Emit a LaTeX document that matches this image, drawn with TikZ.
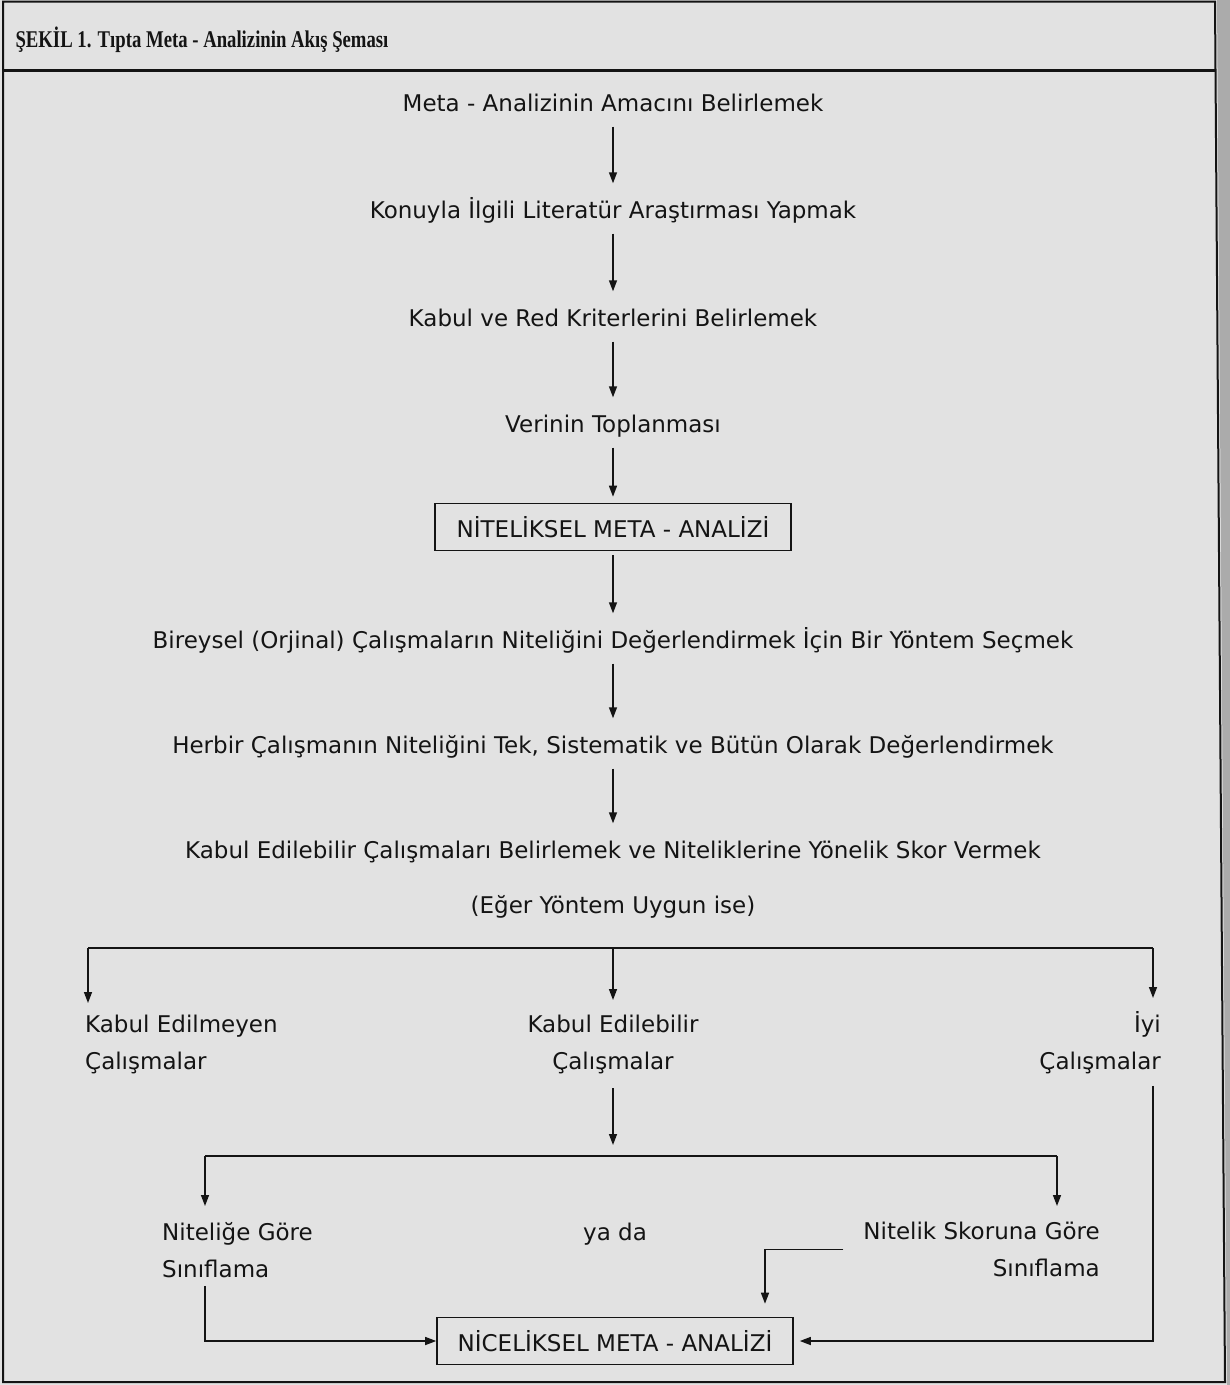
\documentclass[tikz,border=0pt]{standalone}
\usepackage{fontspec}
\setmainfont{DejaVu Sans}
\newfontfamily\sekiltitlefont[FakeStretch=0.78]{Liberation Serif}
\usepackage{xcolor}
\usetikzlibrary{arrows.meta, calc}
\definecolor{sekilpaper}{HTML}{E2E2E2}
\definecolor{sekilgutter}{HTML}{ABABAB}
\definecolor{sekilink}{HTML}{141414}

\tikzset{
  flowtext/.style={font=\fontsize{23}{37}\selectfont, text=sekilink, inner sep=0pt,
    text height=17pt, text depth=0pt},
  flowpair/.style={font=\fontsize{23}{37}\selectfont, text=sekilink, inner sep=0pt},
  flowbox/.style={draw=sekilink, line width=1.6pt, text=sekilink,
    font=\fontsize{23}{27}\selectfont, minimum width=356pt, minimum height=47pt, inner sep=0pt},
  flowarrow/.style={draw=sekilink, line width=1.4pt, -{Triangle[length=11pt,width=8pt]},
    shorten <=15pt, shorten >=18pt},
  flowline/.style={draw=sekilink, line width=1.4pt},
}

\begin{document}
\begin{tikzpicture}[x=1pt, y=-1pt]
  % paper and frame
  \fill[sekilpaper] (0,0) rectangle (1230,1385);
  \fill[sekilgutter] (1217,0) -- (1230,0) -- (1230,1385) -- (1227,1385) -- cycle;
  \useasboundingbox (0,0) rectangle (1230,1385);
  \draw[sekilink, line width=2pt] (3,1.5) -- (1215,1.5) -- (1225,1382) -- (3,1382) -- cycle;
  \draw[sekilink, line width=3pt] (3,70) -- (1215,70);

  \node[font=\sekiltitlefont\bfseries\fontsize{24}{27}\selectfont, text=sekilink, anchor=west] (title) at (12,40)
    {ŞEKİL 1. Tıpta Meta - Analizinin Akış Şeması};

  % qualitative part
  \node[flowtext] (purpose) at (613,103) {Meta - Analizinin Amacını Belirlemek};
  \node[flowtext] (litsearch) at (613,210) {Konuyla İlgili Literatür Araştırması Yapmak};
  \node[flowtext] (criteria) at (613,318) {Kabul ve Red Kriterlerini Belirlemek};
  \node[flowtext] (datacoll) at (613,424) {Verinin Toplanması};
  \node[flowbox] (qualmeta) at (613,527) {NİTELİKSEL META - ANALİZİ};
  \node[flowtext] (method) at (613,640) {Bireysel (Orjinal) Çalışmaların Niteliğini Değerlendirmek İçin Bir Yöntem Seçmek};
  \node[flowtext] (assess) at (613,745) {Herbir Çalışmanın Niteliğini Tek, Sistematik ve Bütün Olarak Değerlendirmek};
  \node[flowtext] (scoring) at (613,850) {Kabul Edilebilir Çalışmaları Belirlemek ve Niteliklerine Yönelik Skor Vermek};
  \node[flowtext] (ifvalid) at (613,905) {(Eğer Yöntem Uygun ise)};

  \draw[flowarrow] (purpose) -- (litsearch);
  \draw[flowarrow] (litsearch) -- (criteria);
  \draw[flowarrow] (criteria) -- (datacoll);
  \draw[flowarrow, shorten >=6pt] (datacoll) -- (qualmeta);
  \draw[flowarrow, shorten <=4pt] (qualmeta) -- (method);
  \draw[flowarrow] (method) -- (assess);
  \draw[flowarrow] (assess) -- (scoring);

  % three groups of studies
  \node[flowpair, align=left, anchor=north west] (rejected) at (85,1015) {Kabul Edilmeyen\\Çalışmalar};
  \node[flowpair, align=center, anchor=north] (accepted) at (613,1015) {Kabul Edilebilir\\Çalışmalar};
  \node[flowpair, align=right, anchor=north east] (goodones) at (1161,1011) {İyi\\Çalışmalar};

  \coordinate (splitL) at (88,948);
  \coordinate (splitM) at (613,948);
  \coordinate (splitR) at (1153,948);
  \draw[flowline] (splitL) -- (splitR);
  \draw[flowarrow, shorten <=0pt, shorten >=12pt] (splitL) -- (splitL |- rejected.north);
  \draw[flowarrow, shorten <=0pt, shorten >=15pt] (splitM) -- (accepted.north);
  \draw[flowarrow, shorten <=0pt, shorten >=13pt] (splitR) -- (splitR |- goodones.north);

  % classification
  \node[flowpair, align=left, anchor=north west] (byquality) at (162,1222) {Niteliğe Göre\\Sınıflama};
  \node[flowtext] (either) at (615,1232) {ya da};
  \node[flowpair, align=right, anchor=north east] (byscore) at (1100,1222) {Nitelik Skoruna Göre\\Sınıflama};

  \coordinate (branchM) at (613,1156);
  \coordinate (branchL) at (205,1156);
  \coordinate (branchR) at (1057,1156);
  \draw[flowarrow, shorten <=14pt, shorten >=11pt] (accepted.south) -- (branchM);
  \draw[flowline] (branchL) -- (branchR);
  \draw[flowarrow, shorten <=0pt, shorten >=16pt] (branchL) -- (branchL |- byquality.north);
  \draw[flowarrow, shorten <=0pt, shorten >=16pt] (branchR) -- (branchR |- byscore.north);

  % quantitative part
  \node[flowbox] (quantmeta) at (615,1341) {NİCELİKSEL META - ANALİZİ};
  \draw[flowarrow, shorten <=8pt, shorten >=0pt] (branchL |- byquality.south) |- (quantmeta.west);
  \draw[flowarrow, shorten <=20pt, shorten >=13pt] (byscore.west) -| ($(quantmeta.north)+(150,0)$);
  \draw[flowarrow, shorten <=12pt, shorten >=6pt] (splitR |- goodones.south) |- (quantmeta.east);
\end{tikzpicture}
\end{document}
